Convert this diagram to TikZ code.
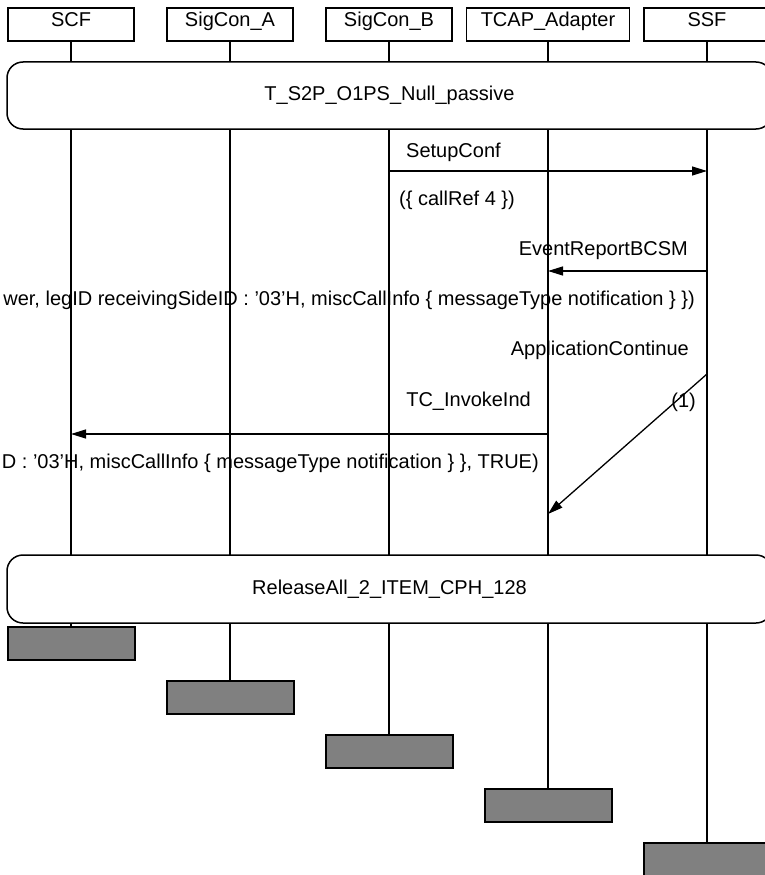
\documentclass[tikz,border=0pt]{standalone}
\usepackage{fontspec}
\setmainfont{Liberation Sans}
\usetikzlibrary{arrows.meta}
\begin{document}
\begin{tikzpicture}[x=1pt,y=-1pt,
  txt/.style={font=\fontsize{20}{22}\selectfont, inner sep=0pt},
  head/.style={txt, draw, line width=1.3pt, minimum height=33pt, minimum width=126pt, text height=14pt, text depth=9pt},
  endbox/.style={draw, line width=2pt, fill=black!50, minimum width=127pt, minimum height=33pt, inner sep=0pt},
  refbox/.style={txt, draw, line width=1.5pt, fill=white, rounded corners=16pt, minimum width=765pt, minimum height=67pt},
  life/.style={line width=1.3pt},
  msg/.style={line width=1.3pt, -{Triangle[length=15pt,width=9pt]}},
  lbl/.style={txt}
]
\useasboundingbox (0,0) rectangle (764,875);

% headers
\node[head] (scf) at (71,24.5) {SCF};
\node[head] (sca) at (230,24.5) {SigCon\_A};
\node[head] (scb) at (389,24.5) {SigCon\_B};
\node[head, minimum width=163pt] (tcap) at (548,24.5) {TCAP\_Adapter};
\node[head] (ssf) at (707,24.5) {SSF};

% end boxes
\node[endbox] (scfE) at (71,643.5) {};
\node[endbox] (scaE) at (230,697.5) {};
\node[endbox] (scbE) at (389,751.5) {};
\node[endbox] (tcapE) at (548,805.5) {};
\node[endbox] (ssfE) at (707,859.5) {};

% lifelines
\draw[life] (scf.south) -- (scfE.north);
\draw[life] (sca.south) -- (scaE.north);
\draw[life] (scb.south) -- (scbE.north);
\draw[life] (tcap.south) -- (tcapE.north);
\draw[life] (ssf.south) -- (ssfE.north);

% reference boxes
\node[refbox] (ref1) at (389.5,95.5) {T\_S2P\_O1PS\_Null\_passive};
\node[refbox, minimum height=68pt] (ref2) at (389.5,589) {ReleaseAll\_2\_ITEM\_CPH\_128};

% message coordinates
\coordinate (m1a) at (389,171);
\coordinate (m1b) at (707,171);
\coordinate (m2a) at (707,271);
\coordinate (m2b) at (548,271);
\coordinate (m3a) at (707,374);
\coordinate (m3b) at (548,514);
\coordinate (m4a) at (548,434);
\coordinate (m4b) at (71,434);

\draw[msg] (m1a) -- (m1b);
\draw[msg] (m2a) -- (m2b);
\draw[msg] (m3a) -- (m3b);
\draw[msg] (m4a) -- (m4b);

% labels
\node[lbl, anchor=base west] (l1) at (406,157) {SetupConf};
\node[lbl, anchor=base west] (l1p) at (399,205) {(\{ callRef 4 \})};
\node[lbl, anchor=base east] (l2) at (688,255) {EventReportBCSM};
\node[lbl, anchor=base east] (l2p) at (695,305) {wer, legID receivingSideID : ’03’H, miscCallInfo \{ messageType notification \} \})};
\node[lbl, anchor=base east] (l3) at (689,355) {ApplicationContinue};
\node[lbl, anchor=base east] (l3p) at (696,407) {(1)};
\node[lbl, anchor=base east] (l4) at (531,406) {TC\_InvokeInd};
\node[lbl, anchor=base east] (l4p) at (539,468) {D : ’03’H, miscCallInfo \{ messageType notification \} \}, TRUE)};
\end{tikzpicture}
\end{document}
